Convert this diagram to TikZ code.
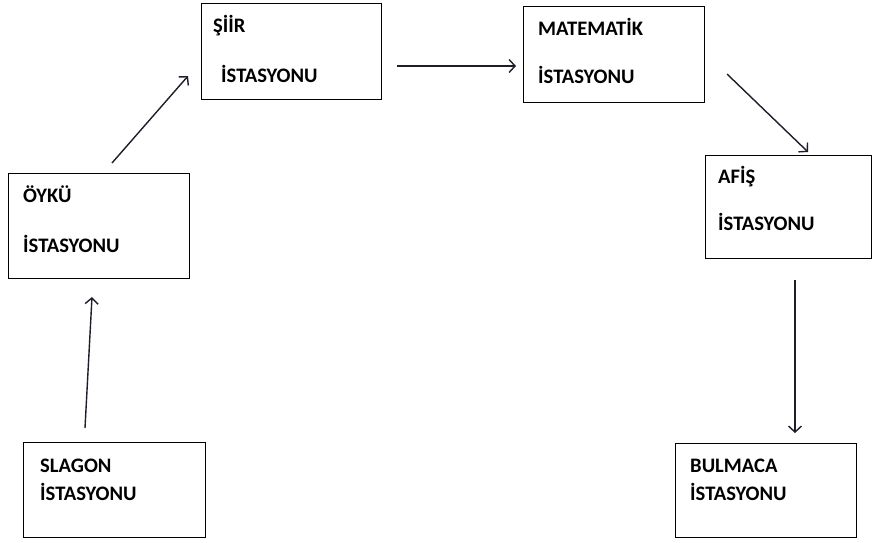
\documentclass[tikz,border=0pt]{standalone}
\usepackage{fontspec}
\setmainfont{Carlito}
\usetikzlibrary{arrows.meta}
\definecolor{arrc}{HTML}{1E1E2A}
\begin{document}
\begin{tikzpicture}[x=1pt,y=-1pt,
  box/.style={draw=black,line width=1.2pt,rectangle,inner sep=0pt,anchor=north west},
  lbl/.style={anchor=base west,inner sep=0pt,font=\fontsize{20.6}{24}\selectfont\bfseries},
  arr/.style={draw=arrc,line width=1.4pt,-{Straight Barb[length=6pt,width=13pt,line width=1.4pt]}}]
\useasboundingbox[fill=white] (0,0) rectangle (875,542);
% boxes
\node[box,minimum width=180pt,minimum height=96pt] (siir) at (201,3) {};
\node[box,minimum width=181pt,minimum height=96pt] (mat) at (523,6) {};
\node[box,minimum width=181pt,minimum height=105pt] (oyku) at (8,173) {};
\node[box,minimum width=166pt,minimum height=103pt] (afis) at (705,155) {};
\node[box,minimum width=182pt,minimum height=95pt] (slagon) at (23,442) {};
\node[box,minimum width=181pt,minimum height=94pt] (bulmaca) at (675,443) {};
% texts
\node[lbl] (siir1) at (213,32) {ŞİİR};
\node[lbl] (siir2) at (221,82) {İSTASYONU};
\node[lbl] (mat1) at (538,35) {MATEMATİK};
\node[lbl] (mat2) at (538,83) {İSTASYONU};
\node[lbl] (oyku1) at (23,202) {ÖYKÜ};
\node[lbl] (oyku2) at (23,252) {İSTASYONU};
\node[lbl] (afis1) at (718,183) {AFİŞ};
\node[lbl] (afis2) at (718,230) {İSTASYONU};
\node[lbl] (slagon1) at (40,472) {SLAGON};
\node[lbl] (slagon2) at (40,500) {İSTASYONU};
\node[lbl] (bulmaca1) at (690,472) {BULMACA};
\node[lbl] (bulmaca2) at (690,500) {İSTASYONU};
% arrow end points
\coordinate (a1s) at (85,428);
\coordinate (a1e) at (92,297);
\coordinate (a2s) at (112,163);
\coordinate (a2e) at (188,76);
\coordinate (a3s) at (397,66);
\coordinate (a3e) at (516,66);
\coordinate (a4s) at (727,74);
\coordinate (a4e) at (808,152);
\coordinate (a5s) at (795,280);
\coordinate (a5e) at (795,433);
\draw[arr] (a1s) -- (a1e);
\draw[arr] (a2s) -- (a2e);
\draw[arr] (a3s) -- (a3e);
\draw[arr] (a4s) -- (a4e);
\draw[arr] (a5s) -- (a5e);
\end{tikzpicture}
\end{document}
